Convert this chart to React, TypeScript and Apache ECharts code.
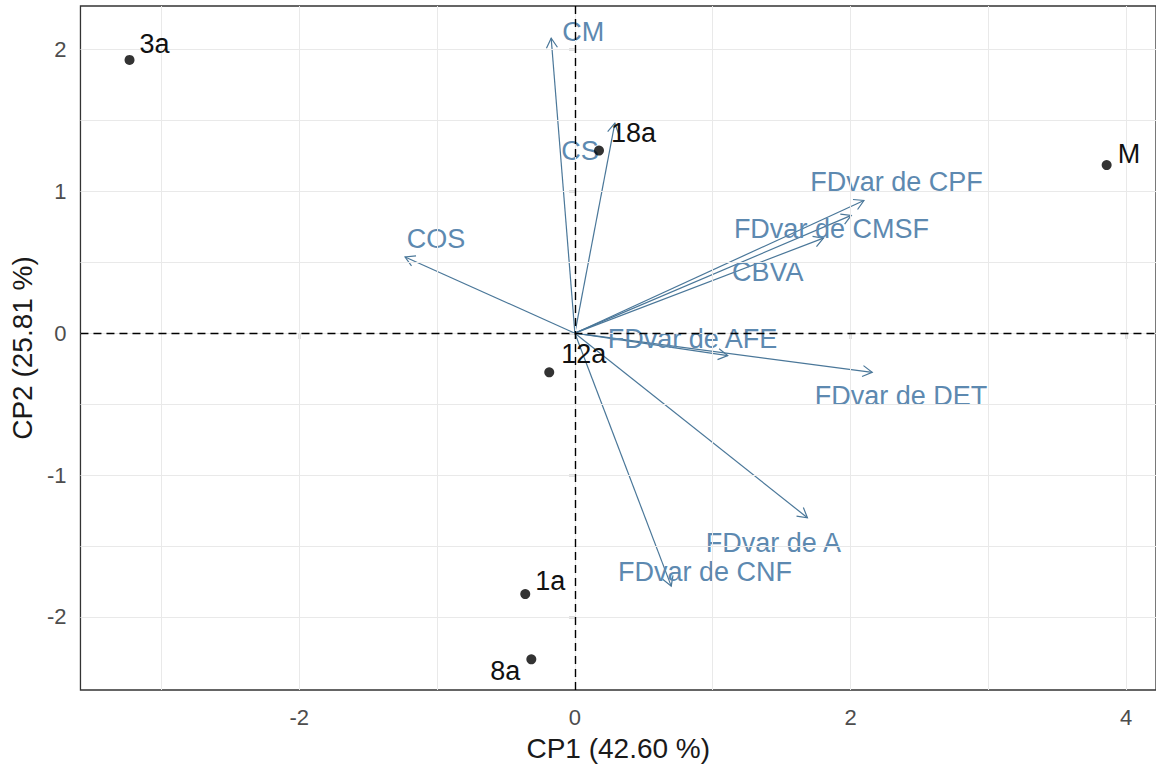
import React, { useEffect, useRef } from "react";
import * as echarts from "echarts";

// Variables (loadings) drawn as arrows from the origin
const varNames = [
  "CM",
  "CS",
  "COS",
  "FDvar de CPF",
  "FDvar de CMSF",
  "CBVA",
  "FDvar de AFE",
  "FDvar de DET",
  "FDvar de A",
  "FDvar de CNF",
];
const varX = [-0.172, 0.29, -1.232, 2.097, 2.005, 1.803, 1.109, 2.157, 1.687, 0.699];
const varY = [2.079, 1.48, 0.537, 0.935, 0.83, 0.67, -0.158, -0.276, -1.301, -1.783];
// Where each variable's label sits (repelled text positions, data units)
const varLabelX = [0.061, 0.038, -1.008, 2.333, 1.861, 1.4, 0.853, 2.366, 1.44, 0.944];
const varLabelY = [2.125, 1.285, 0.665, 1.067, 0.736, 0.428, -0.042, -0.44, -1.476, -1.68];

// Individuals (scores)
const indNames = ["3a", "18a", "M", "12a", "1a", "8a"];
const indX = [-3.231, 0.175, 3.858, -0.186, -0.36, -0.316];
const indY = [1.926, 1.287, 1.185, -0.276, -1.839, -2.299];

// Axes
const xTicks = [-2, 0, 2, 4];
const yTicks = [-2, -1, 0, 1, 2];
const xGrid = [-3, -2, -1, 0, 1, 2, 3, 4];
const yGrid = [-2, -1.5, -1, -0.5, 0, 0.5, 1, 1.5, 2];
const xTitle = "CP1 (42.60 %)";
const yTitle = "CP2 (25.81 %)";

const FONT = "Liberation Sans, Arial, sans-serif";
const ARROW = "#4a7799";
const VARTEXT = "#5d89b0";

// Per-individual label placement in pixels: [dx, dy, align]
const indLabelNudge: [number, number, string][] = [
  [10, -16, "left"],
  [12, -18, "left"],
  [11, -11, "left"],
  [12, -18, "left"],
  [10, -13, "left"],
  [-11, 12, "right"],
];

export default function App() {
  const ref = useRef<HTMLDivElement>(null);

  useEffect(() => {
    if (!ref.current) return;
    const chart = echarts.init(ref.current, undefined, { renderer: "svg" });

    const arrowData = varNames.map((n, i) => [varX[i], varY[i], n]);
    const varLabelData = varNames.map((n, i) => [varLabelX[i], varLabelY[i], n]);
    const indData = indNames.map((n, i) => [indX[i], indY[i], n]);

    const option: any = {
      animation: false,
      backgroundColor: "#ffffff",
      grid: {
        left: 80,
        top: 6,
        right: -4,
        bottom: 76,
        show: true,
        borderColor: "#333333",
        borderWidth: 1.3,
        backgroundColor: "#ffffff",
      },
      xAxis: {
        type: "value",
        min: -3.587,
        max: 4.216,
        name: xTitle,
        nameLocation: "middle",
        nameGap: 44,
        nameTextStyle: { fontFamily: FONT, fontSize: 28, color: "#1a1a1a" },
        axisLine: { show: false },
        axisTick: {
          show: true,
          customValues: xTicks,
          length: 6,
          lineStyle: { color: "#333333", width: 1.3 },
        },
        axisLabel: {
          customValues: xTicks,
          fontFamily: FONT,
          fontSize: 22,
          color: "#4d4d4d",
          margin: 16,
        },
        splitLine: { show: false },
      },
      yAxis: {
        type: "value",
        min: -2.515,
        max: 2.306,
        name: yTitle,
        nameLocation: "middle",
        nameGap: 38,
        nameTextStyle: { fontFamily: FONT, fontSize: 28, color: "#1a1a1a" },
        axisLine: { show: false },
        axisTick: {
          show: true,
          customValues: yTicks,
          length: 6,
          lineStyle: { color: "#333333", width: 1.3 },
        },
        axisLabel: {
          customValues: yTicks,
          fontFamily: FONT,
          fontSize: 22,
          color: "#4d4d4d",
          margin: 14,
        },
        splitLine: { show: false },
      },
      series: [
        {
          // panel grid lines
          type: "scatter",
          data: [],
          silent: true,
          z: 1,
          markLine: {
            silent: true,
            symbol: ["none", "none"],
            label: { show: false },
            lineStyle: { color: "#e9e9e9", width: 1, type: "solid" },
            data: [
              ...xGrid.map((v) => ({ xAxis: v })),
              ...yGrid.map((v) => ({ yAxis: v })),
            ],
          },
        },
        {
          // dashed reference lines through the origin
          type: "scatter",
          data: [],
          silent: true,
          z: 2,
          markLine: {
            silent: true,
            symbol: ["none", "none"],
            label: { show: false },
            lineStyle: { color: "#000000", width: 1.4, type: [8, 5] },
            data: [{ xAxis: 0 }, { yAxis: 0 }],
          },
        },
        {
          // variable arrows
          type: "custom",
          z: 3,
          silent: true,
          data: arrowData,
          renderItem: (params: any, api: any) => {
            const o = api.coord([0, 0]);
            const e = api.coord([api.value(0), api.value(1)]);
            const ang = Math.atan2(e[1] - o[1], e[0] - o[0]);
            const len = 11;
            const spread = Math.PI / 6;
            const h1 = [
              e[0] - len * Math.cos(ang - spread),
              e[1] - len * Math.sin(ang - spread),
            ];
            const h2 = [
              e[0] - len * Math.cos(ang + spread),
              e[1] - len * Math.sin(ang + spread),
            ];
            const style = { stroke: ARROW, lineWidth: 1.2, fill: "none" };
            return {
              type: "group",
              children: [
                { type: "line", shape: { x1: o[0], y1: o[1], x2: e[0], y2: e[1] }, style },
                { type: "polyline", shape: { points: [h1, e, h2] }, style },
              ],
            };
          },
        },
        {
          // variable labels
          type: "custom",
          z: 4,
          silent: true,
          data: varLabelData,
          renderItem: (params: any, api: any) => {
            const p = api.coord([api.value(0), api.value(1)]);
            return {
              type: "text",
              x: p[0],
              y: p[1],
              style: {
                text: varNames[params.dataIndex],
                fill: VARTEXT,
                font: `27px ${FONT}`,
                textAlign: "center",
                textVerticalAlign: "middle",
              },
            };
          },
        },
        {
          // individuals
          type: "scatter",
          z: 5,
          silent: true,
          data: indData,
          symbol: "circle",
          symbolSize: 10,
          itemStyle: { color: "#000000" },
        },
        {
          // individual labels
          type: "custom",
          z: 6,
          silent: true,
          data: indData,
          renderItem: (params: any, api: any) => {
            const p = api.coord([api.value(0), api.value(1)]);
            const [dx, dy, align] = indLabelNudge[params.dataIndex];
            return {
              type: "text",
              x: p[0] + dx,
              y: p[1] + dy,
              style: {
                text: indNames[params.dataIndex],
                fill: "#111111",
                font: `27px ${FONT}`,
                textAlign: align,
                textVerticalAlign: "middle",
              },
            };
          },
        },
      ],
    };

    chart.setOption(option);
    return () => chart.dispose();
  }, []);

  return (
    <div
      ref={ref}
      style={{ position: "fixed", left: 0, top: 0, width: 1156, height: 767 }}
    />
  );
}
